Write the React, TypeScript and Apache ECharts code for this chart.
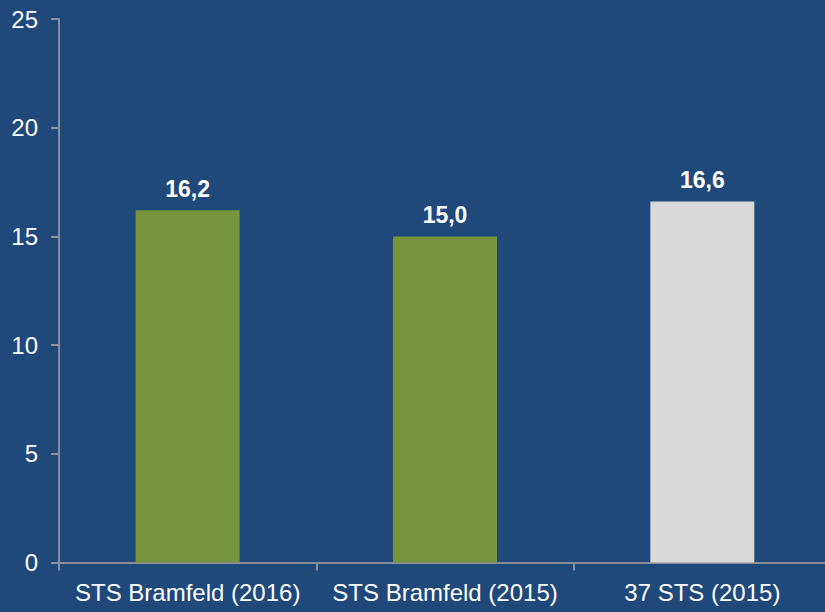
import React, { useEffect, useRef } from "react";
import * as echarts from "echarts";

const categories = ["STS Bramfeld (2016)", "STS Bramfeld (2015)", "37 STS (2015)"];
const values = [16.2, 15.0, 16.6];
const barColors = ["#77933C", "#77933C", "#D9D9D9"];
const yTicks = { min: 0, max: 25, interval: 5 };

const FONT = "'Liberation Sans', Arial, sans-serif";

export default function App() {
  const ref = useRef<HTMLDivElement>(null);
  useEffect(() => {
    if (!ref.current) return;
    const chart = echarts.init(ref.current, null, { renderer: "svg" });
    chart.setOption({
      animation: false,
      backgroundColor: "#1F487B",
      grid: { left: 59, top: 19, width: 772, height: 543.5 },
      xAxis: {
        type: "category",
        data: categories,
        axisLine: { lineStyle: { color: "#8A8F99", width: 2 } },
        axisTick: { show: true, length: 8, lineStyle: { color: "#8A8F99", width: 2 } },
        axisLabel: { color: "#FFFFFF", fontFamily: FONT, fontSize: 24, margin: 18, interval: 0 },
      },
      yAxis: {
        type: "value",
        min: yTicks.min,
        max: yTicks.max,
        interval: yTicks.interval,
        axisLine: { show: true, lineStyle: { color: "#8A8F99", width: 2 } },
        axisTick: { show: true, length: 8, lineStyle: { color: "#8A8F99", width: 2 } },
        splitLine: { show: false },
        axisLabel: { color: "#FFFFFF", fontFamily: FONT, fontSize: 24, margin: 21 },
      },
      series: [
        {
          type: "bar",
          barWidth: "40.4%",
          data: values.map((v, i) => ({ value: v, itemStyle: { color: barColors[i] } })),
          label: {
            show: true,
            position: "top",
            distance: 10,
            color: "#FFFFFF",
            fontFamily: FONT,
            fontSize: 23,
            fontWeight: "bold",
            formatter: (p: any) => p.value.toFixed(1).replace(".", ","),
          },
        },
      ],
    });
    return () => chart.dispose();
  }, []);
  return (
    <div style={{ width: 825, height: 612, position: "absolute", left: 0, top: 0, overflow: "hidden", background: "#1F487B" }}>
      <div ref={ref} style={{ width: 845, height: 612 }} />
    </div>
  );
}
